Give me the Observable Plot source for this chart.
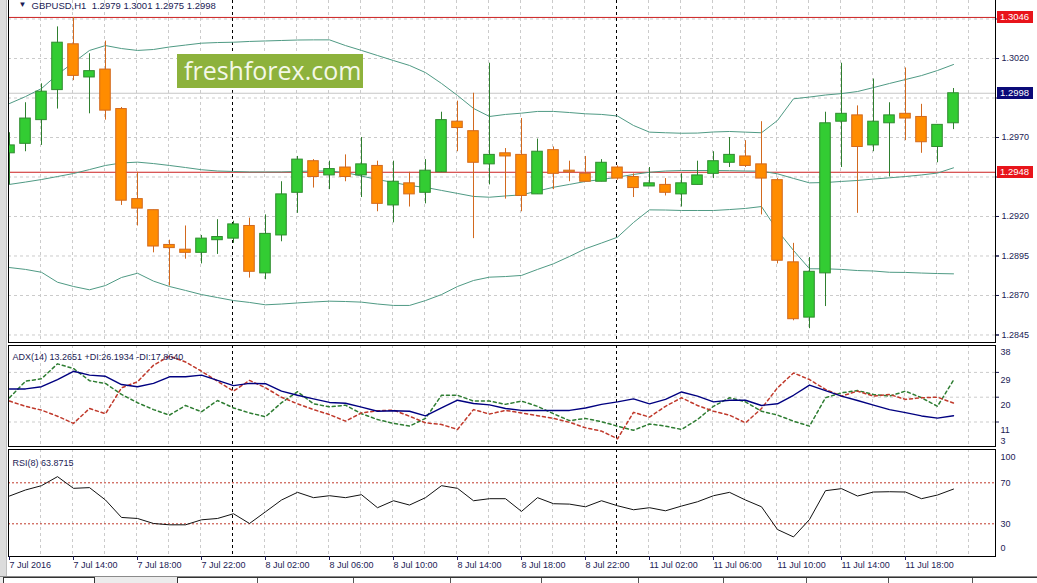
<!DOCTYPE html>
<html><head><meta charset="utf-8">
<script src="https://cdn.jsdelivr.net/npm/d3@7"></script>
<script src="https://cdn.jsdelivr.net/npm/@observablehq/plot@0.6"></script>
<style>
body{margin:0;background:#fff;}
#wrap{position:relative;width:1037px;height:583px;overflow:hidden;background:#fff;font-family:"Liberation Sans",Arial,sans-serif;}
.pane{position:absolute;left:0;}
.pane svg{display:block;}
.pbox{position:absolute;left:997px;width:36px;height:12px;line-height:12px;font-size:9.5px;color:#fff;padding-left:3px;box-sizing:border-box;}
</style></head><body><div id="wrap"></div>
<script>
// ---------- data ----------
const symbol = "GBPUSD,H1";
const timeLabels = ["7 Jul 2016","7 Jul 14:00","7 Jul 18:00","7 Jul 22:00","8 Jul 02:00","8 Jul 06:00","8 Jul 10:00","8 Jul 14:00","8 Jul 18:00","8 Jul 22:00","11 Jul 02:00","11 Jul 06:00","11 Jul 10:00","11 Jul 14:00","11 Jul 18:00"];
const labelBars = [0,4,8,12,16,20,24,28,32,36,40,44,48,52,56];
const daySeparators = [14, 38];

const open  = [1.2960,1.2966,1.2981,1.3000,1.3029,1.3008,1.3013,1.2988,1.2931,1.2924,1.2902,1.2899,1.2897,1.2905,1.2906,1.2914,1.2884,1.2908,1.2935,1.2955,1.2946,1.2951,1.2946,1.2952,1.2927,1.2941,1.2935,1.2948,1.2980,1.2974,1.2953,1.2960,1.2959,1.2934,1.2962,1.2949,1.2947,1.2942,1.2951,1.2945,1.2939,1.2940,1.2934,1.2940,1.2947,1.2954,1.2958,1.2953,1.2943,1.2891,1.2856,1.2884,1.2980,1.2984,1.2965,1.2979,1.2985,1.2983,1.2964,1.2979];
const high  = [1.2973,1.2992,1.3004,1.3040,1.3046,1.3023,1.3031,1.2989,1.2948,1.2924,1.2905,1.2914,1.2908,1.2918,1.2917,1.2919,1.2921,1.2942,1.2958,1.2956,1.2955,1.2959,1.2970,1.2955,1.2955,1.2948,1.2956,1.2986,1.2993,1.2998,1.3017,1.2963,1.2982,1.2969,1.2964,1.2955,1.2958,1.2956,1.2952,1.2947,1.2951,1.2944,1.2947,1.2955,1.2961,1.2970,1.2968,1.2980,1.2944,1.2903,1.2894,1.2986,1.3017,1.2990,1.3007,1.2992,1.3014,1.2991,1.2978,1.3001];
const low   = [1.2940,1.2961,1.2965,1.2988,1.3006,1.2985,1.2981,1.2927,1.2914,1.2897,1.2876,1.2893,1.2890,1.2896,1.2903,1.2881,1.2880,1.2904,1.2922,1.2938,1.2937,1.2942,1.2932,1.2923,1.2916,1.2926,1.2928,1.2948,1.2961,1.2906,1.2940,1.2931,1.2923,1.2934,1.2937,1.2942,1.2942,1.2942,1.2943,1.2932,1.2939,1.2933,1.2926,1.2940,1.2944,1.2951,1.2951,1.2921,1.2890,1.2854,1.2849,1.2863,1.2951,1.2922,1.2961,1.2945,1.2968,1.2960,1.2954,1.2975];
const close = [1.2965,1.2982,1.2999,1.3030,1.3009,1.3012,1.2987,1.2930,1.2925,1.2901,1.2900,1.2897,1.2906,1.2907,1.2915,1.2885,1.2909,1.2934,1.2956,1.2945,1.2950,1.2945,1.2953,1.2928,1.2942,1.2934,1.2949,1.2981,1.2976,1.2954,1.2959,1.2958,1.2933,1.2961,1.2947,1.2948,1.2942,1.2954,1.2944,1.2938,1.2941,1.2935,1.2941,1.2946,1.2955,1.2959,1.2952,1.2944,1.2892,1.2855,1.2885,1.2979,1.2985,1.2964,1.2980,1.2984,1.2982,1.2967,1.2978,1.2998];

const bbUpper  = [1.29915,1.29959,1.30010,1.30099,1.30175,1.30251,1.30282,1.30263,1.30251,1.30257,1.30273,1.30285,1.30297,1.30301,1.30303,1.30308,1.30311,1.30314,1.30317,1.30318,1.30318,1.30282,1.30251,1.30219,1.30187,1.30156,1.30111,1.30042,1.29966,1.29884,1.29833,1.29846,1.29854,1.29865,1.29865,1.29858,1.29850,1.29846,1.29836,1.29776,1.29734,1.29730,1.29727,1.29728,1.29735,1.29738,1.29734,1.29730,1.29808,1.29945,1.29956,1.29969,1.29978,1.29991,1.30016,1.30042,1.30067,1.30092,1.30124,1.30162];
const bbMiddle = [1.29403,1.29418,1.29434,1.29453,1.29472,1.29497,1.29523,1.29539,1.29544,1.29535,1.29523,1.29510,1.29496,1.29488,1.29485,1.29482,1.29482,1.29482,1.29485,1.29488,1.29488,1.29478,1.29456,1.29434,1.29415,1.29396,1.29384,1.29365,1.29346,1.29327,1.29322,1.29330,1.29337,1.29361,1.29385,1.29403,1.29422,1.29434,1.29449,1.29466,1.29480,1.29488,1.29491,1.29491,1.29491,1.29490,1.29488,1.29487,1.29470,1.29441,1.29413,1.29415,1.29422,1.29428,1.29437,1.29445,1.29453,1.29463,1.29475,1.29508];
const bbLower  = [1.28877,1.28865,1.28847,1.28784,1.28757,1.28736,1.28763,1.28814,1.28841,1.28791,1.28757,1.28732,1.28706,1.28687,1.28668,1.28656,1.28641,1.28646,1.28653,1.28659,1.28664,1.28662,1.28658,1.28646,1.28637,1.28637,1.28668,1.28706,1.28757,1.28795,1.28816,1.28820,1.28827,1.28865,1.28901,1.28947,1.28996,1.29032,1.29069,1.29162,1.29242,1.29241,1.29238,1.29238,1.29238,1.29244,1.29251,1.29263,1.29111,1.28985,1.28869,1.28869,1.28865,1.28858,1.28855,1.28847,1.28846,1.28842,1.28839,1.28837];

const adx     = [23.0,23.0,23.8,26.4,29.4,28.0,27.6,24.6,23.8,25.0,27.4,27.4,28.0,26.1,24.2,25.0,24.9,22.2,20.7,19.4,18.1,17.8,16.4,14.9,15.1,14.9,13.2,16.1,18.9,17.7,17.2,15.9,15.2,15.2,15.2,15.2,16.1,17.4,18.3,19.4,17.6,19.2,21.9,20.4,18.3,18.9,18.9,17.0,17.6,20.7,24.4,22.4,20.4,18.8,17.1,15.5,14.4,13.2,12.4,13.2651];
const plusDI  = [19.8,25.8,26.7,32.1,30.4,26.0,25.0,21.0,18.0,15.5,13.5,17.0,14.7,18.8,16.1,14.3,12.9,18.0,22.0,17.6,16.5,17.1,14.0,11.9,10.5,9.5,12.3,20.7,20.7,18.6,18.6,17.4,18.6,16.7,14.0,11.5,12.3,11.1,9.5,8.0,10.3,9.5,8.3,11.9,16.7,19.8,18.3,14.9,13.5,11.3,9.5,19.8,21.6,22.4,21.0,20.4,22.2,19.8,16.7,26.1934];
const minusDI = [18.6,16.7,15.3,13.1,10.5,15.9,14.0,23.4,25.6,31.6,34.9,32.8,29.4,25.8,22.2,26.1,23.4,20.0,17.6,15.5,13.7,11.3,14.3,15.1,15.3,13.1,10.7,10.1,8.3,15.5,13.9,15.2,14.3,13.3,12.3,10.9,8.9,7.7,4.9,14.5,12.8,16.7,19.8,17.0,14.9,13.5,10.7,15.9,23.4,28.8,26.4,22.8,20.4,22.2,20.4,21.0,19.2,19.8,20.0,17.8640];
const rsi     = [57.1,63.0,67.2,76.0,64.6,65.3,53.2,36.2,35.2,30.3,29.0,29.0,33.9,35.2,39.8,30.3,41.7,53.2,60.7,55.5,57.4,55.5,58.4,45.7,52.5,48.3,55.5,67.2,64.6,52.5,54.5,54.5,42.1,55.5,49.6,49.2,46.6,52.5,47.6,43.7,45.7,42.7,47.3,51.5,57.4,60.7,53.2,46.6,24.4,17.2,34.2,62.3,64.3,57.1,61.0,61.3,61.0,54.5,58.1,63.8715];

const priceTicks = [1.3045,1.3020,1.2995,1.2970,1.2945,1.2920,1.2895,1.2870,1.2845];
const priceLabelTicks = [1.3020,1.2970,1.2920,1.2895,1.2870,1.2845];
const priceLines = [1.3046, 1.2948];
const adxTicks = [29, 20, 11];
const adxTop = 38, adxBottom = 3;
const rsiLevels = [70, 30];
const rsiTop = 100, rsiBottom = 0;

// ---------- drawing ----------
const W = 1037, ML = 8, MR = 42;
const xDomain = [-0.0625, 61.625];
const font = '"Liberation Sans", Arial, sans-serif';
const axisColor = "#1b1b55";
const grid = {stroke: "#cbcbcb", strokeDasharray: "3,3"};
const gridBars = d3.range(2, 62, 2);
const f4 = d3.format(".4f");
const candles = open.map((o, i) => ({i, o, h: high[i], l: low[i], c: close[i], up: close[i] >= o}));
const series = arr => arr.map((v, i) => ({i, v}));
const bbColor = "#4f9a84";
const baseStyle = {fontFamily: font, fontSize: "9px", background: "transparent", overflow: "visible"};
const vGrid = () => [
  Plot.ruleX(gridBars, {x: d => d, ...grid, dx: -1}),
  Plot.ruleX(daySeparators, {x: d => d, stroke: "#000", strokeDasharray: "3,3", dx: -1})
];
const rightLabel = (vals, dy) => Plot.text(vals, {y: d => d, text: d => String(d), frameAnchor: "right", dx: 5, dy, textAnchor: "start", fill: axisColor});

const wrap = document.getElementById("wrap");
function place(svg, top) {
  const d = document.createElement("div");
  d.className = "pane"; d.style.top = top + "px";
  d.appendChild(svg); wrap.appendChild(d);
}

const last = candles[candles.length - 1];
const main = Plot.plot({
  width: W, height: 349, marginLeft: ML, marginRight: MR, marginTop: 0, marginBottom: 1,
  style: baseStyle,
  x: {domain: xDomain, axis: null},
  y: {domain: [1.284025, 1.306051], axis: null},
  marks: [
    Plot.ruleY(priceTicks, {y: d => d, ...grid}),
    ...vGrid(),
    Plot.ruleY([last.c], {y: d => d, stroke: "#c6c6c6"}),
    Plot.ruleY(priceLines, {y: d => d, stroke: "#cc2020"}),
    Plot.line(series(bbUpper), {x: "i", y: "v", stroke: bbColor, strokeWidth: 1}),
    Plot.line(series(bbMiddle), {x: "i", y: "v", stroke: bbColor, strokeWidth: 1}),
    Plot.line(series(bbLower), {x: "i", y: "v", stroke: bbColor, strokeWidth: 1}),
    Plot.ruleX(candles, {x: "i", y1: "l", y2: "h", stroke: d => d.up ? "#2f7f2f" : "#d2691e", clip: true}),
    Plot.rect(candles, {x1: d => d.i - 0.33, x2: d => d.i + 0.33, y1: "o", y2: "c",
      fill: d => d.up ? "#33cc33" : "#ff8c00", stroke: d => d.up ? "#2e8b2e" : "#d2691e", clip: true}),
    Plot.frame({stroke: "#000"}),
    Plot.axisY({anchor: "right", ticks: priceTicks, tickFormat: () => "", tickSize: 3, color: axisColor, label: null}),
    Plot.axisY({anchor: "right", ticks: priceLabelTicks, tickFormat: f4, tickSize: 3, tickPadding: 3, color: axisColor, label: null}),
    Plot.text(["\u25BC"], {frameAnchor: "top-left", dx: 10, dy: 7, textAnchor: "start", fill: axisColor, fontSize: 8}),
    Plot.text([`${symbol}  ${f4(last.o)} ${f4(last.h)} ${f4(last.l)} ${f4(last.c)}`], {frameAnchor: "top-left", dx: 23, dy: 7.5, textAnchor: "start", fill: axisColor, fontSize: 9.5})
  ]
});
place(main, -6);

const adxPlot = Plot.plot({
  width: W, height: 104, marginLeft: ML, marginRight: MR, marginTop: 2, marginBottom: 1,
  style: baseStyle,
  x: {domain: xDomain, axis: null},
  y: {domain: [2.11, 38.76], axis: null},
  marks: [
    Plot.ruleY(adxTicks, {y: d => d, ...grid}),
    ...vGrid(),
    Plot.line(series(plusDI), {x: "i", y: "v", stroke: "#2e7d32", strokeDasharray: "3,3"}),
    Plot.line(series(minusDI), {x: "i", y: "v", stroke: "#c0392b", strokeDasharray: "3,3"}),
    Plot.line(series(adx), {x: "i", y: "v", stroke: "#000080", strokeWidth: 1.4}),
    Plot.frame({stroke: "#000"}),
    Plot.axisY({anchor: "right", ticks: adxTicks, tickFormat: () => "", tickSize: 3, color: axisColor, label: null}),
    rightLabel(adxTicks, 8),
    rightLabel([adxTop], 5),
    rightLabel([adxBottom], -3),
    Plot.text([`ADX(14) ${f4(adx[59])} +DI:${f4(plusDI[59])} -DI:${f4(minusDI[59])}`], {frameAnchor: "top-left", dx: 4, dy: 8, textAnchor: "start", fill: axisColor})
  ]
});
place(adxPlot, 343);

const rsiPlot = Plot.plot({
  width: W, height: 130, marginLeft: ML, marginRight: MR, marginTop: 2, marginBottom: 21,
  style: baseStyle,
  x: {domain: xDomain, axis: null},
  y: {domain: [-1.90, 102.49], axis: null},
  marks: [
    ...vGrid(),
    Plot.ruleY(rsiLevels, {y: d => d, stroke: "#c0392b", strokeDasharray: "2,2"}),
    Plot.line(series(rsi), {x: "i", y: "v", stroke: "#111", strokeWidth: 1}),
    Plot.frame({stroke: "#000"}),
    Plot.axisX({anchor: "bottom", ticks: labelBars, tickFormat: d => timeLabels[labelBars.indexOf(d)], tickSize: 4, tickPadding: 1, textAnchor: "start", color: axisColor, label: null}),
    rightLabel(rsiLevels, 0),
    rightLabel([rsiTop], 5),
    rightLabel([rsiBottom], -6),
    Plot.text([`RSI(8) ${f4(rsi[59])}`], {frameAnchor: "top-left", dx: 4, dy: 10, textAnchor: "start", fill: axisColor})
  ]
});
place(rsiPlot, 447);

// price boxes on the right axis, positioned with the chart's own y scale
const ys = main.scale("y");
[[priceLines[0], "#e8141b"], [last.c, "#0a0a78"], [priceLines[1], "#e8141b"]].forEach(([p, bg]) => {
  const b = document.createElement("div");
  b.className = "pbox";
  b.style.background = bg;
  b.style.top = (-6 + ys.apply(p) - 6) + "px";
  b.textContent = f4(p);
  wrap.appendChild(b);
});

// watermark
const wm = document.createElement("div");
wm.textContent = "freshforex.com";
Object.assign(wm.style, {position: "absolute", left: "177px", top: "54px", width: "186px", height: "34px",
  background: "#8db23c", color: "#f4f8e8", font: '25px "Open Sans", sans-serif', lineHeight: "33px",
  paddingLeft: "7px", boxSizing: "border-box"});
wrap.appendChild(wm);

// window chrome: left strip and bottom tab bar
const strip = document.createElement("div");
Object.assign(strip.style, {position: "absolute", left: "0", top: "0", width: "6px", height: "576px", background: "#dcdcdc", borderRight: "1px solid #bdbdbd"});
wrap.appendChild(strip);
const bar = document.createElement("div");
Object.assign(bar.style, {position: "absolute", left: "0", top: "576px", width: "1037px", height: "7px", background: "#ececec", borderTop: "1px solid #8a8a8a"});
wrap.appendChild(bar);
const tab1 = document.createElement("div");
Object.assign(tab1.style, {position: "absolute", left: "3px", top: "577px", width: "90px", height: "6px", background: "#fff", border: "1px solid #333", borderBottom: "none"});
wrap.appendChild(tab1);
const tabs = document.createElement("div");
Object.assign(tabs.style, {position: "absolute", left: "177px", top: "577px", width: "860px", height: "6px", background: "#fff", borderTop: "1px solid #333", borderLeft: "1px solid #333"});
wrap.appendChild(tabs);
[257, 353, 450, 541, 638, 723, 806, 888, 972].forEach(x => {
  const s = document.createElement("div");
  Object.assign(s.style, {position: "absolute", left: x + "px", top: "578px", width: "1px", height: "5px", background: "#555"});
  wrap.appendChild(s);
});
</script></body></html>
